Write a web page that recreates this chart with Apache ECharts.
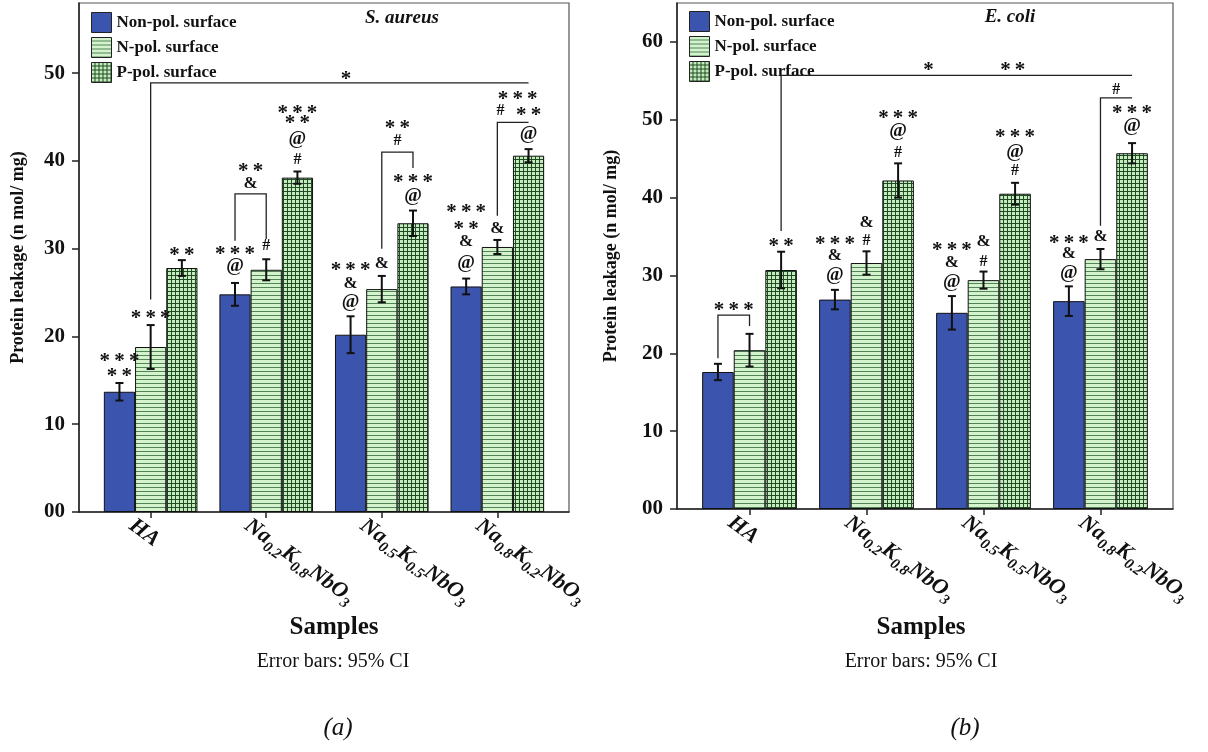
<!DOCTYPE html>
<html>
<head>
<meta charset="utf-8">
<script src="https://cdn.jsdelivr.net/npm/echarts@6/dist/echarts.min.js"></script>
<style>
  html, body { margin: 0; padding: 0; background: #fff; }
  #chart { width: 1208px; height: 752px; }
</style>
</head>
<body>
<div id="chart"></div>
<script>
// samples, series names
var samples = ['HA', 'Na0.2K0.8NbO3', 'Na0.5K0.5NbO3', 'Na0.8K0.2NbO3'];
var surfaces = ['Non-pol. surface', 'N-pol. surface', 'P-pol. surface'];
var yTicksA = [0, 10, 20, 30, 40, 50];
var yTicksB = [0, 10, 20, 30, 40, 50, 60];

// (a) S. aureus - protein leakage and 95% CI half widths
var aureusNon = [13.7, 24.8, 20.2, 25.7];
var aureusN = [18.8, 27.6, 25.4, 30.2];
var aureusP = [27.8, 38.1, 32.9, 40.6];
var aureusNonErr = [1.0, 1.3, 2.1, 0.9];
var aureusNErr = [2.5, 1.2, 1.5, 0.8];
var aureusPErr = [0.9, 0.7, 1.45, 0.75];

// (b) E. coli
var coliNon = [17.6, 26.9, 25.2, 26.7];
var coliN = [20.4, 31.6, 29.4, 32.1];
var coliP = [30.7, 42.2, 40.5, 45.7];
var coliNonErr = [1.05, 1.25, 2.15, 1.9];
var coliNErr = [2.1, 1.5, 1.1, 1.3];
var coliPErr = [2.35, 2.2, 1.4, 1.3];

// significance marks: [sample, surface (0..2, fractional = between bars), y, text]
var sigA = [
  [0, 0, 17.7, '***'], [0, 0, 16.0, '**'],
  [0, 1, 22.6, '***'],
  [0, 2, 29.8, '**'],
  [1, 0, 29.9, '***'], [1, 0, 28.0, '@'],
  [1, 1, 30.3, '#'],
  [1, 0.5, 37.4, '&'], [1, 0.5, 39.4, '**'],
  [1, 2, 40.1, '#'], [1, 2, 42.5, '@'], [1, 2, 44.8, '**'], [1, 2, 46.0, '***'],
  [2, 0, 28.1, '***'], [2, 0, 26.0, '&'], [2, 0, 23.9, '@'],
  [2, 1, 28.3, '&'],
  [2, 1.5, 42.3, '#'], [2, 1.5, 44.3, '**'],
  [2, 2, 36.0, '@'], [2, 2, 38.1, '***'],
  [3, 0, 34.7, '***'], [3, 0, 32.8, '**'], [3, 0, 30.8, '&'], [3, 0, 28.4, '@'],
  [3, 1, 32.3, '&'],
  [3, 1.1, 45.7, '#'],
  [3, 2, 43.1, '@'], [3, 2, 45.7, '**'], [3, 1.65, 47.6, '***'],
  [1.69, 1, 49.9, '*']
];
// brackets: [sample1, surface1, leg1 end, sample2, surface2, leg2 end, level]
var bracketsA = [
  [1, 0, 30.9, 1, 1, 31.1, 36.25],
  [2, 1, 30.0, 2, 2, 39.2, 41.0],
  [3, 1, 33.75, 3, 2, 44.4, 44.4],
  [0, 1, 24.2, 3, 2, 48.9, 48.9]
];

var sigB = [
  [0, 0.5, 26.1, '***'],
  [0, 2, 34.3, '**'],
  [1.53, 1, 56.9, '*'], [2.25, 1, 56.9, '**'],
  [1, 0, 34.6, '***'], [1, 0, 32.5, '&'], [1, 0, 30.1, '@'],
  [1, 1, 36.8, '&'], [1, 1, 34.5, '#'],
  [1, 2, 50.8, '***'], [1, 2, 48.5, '@'], [1, 2, 45.8, '#'],
  [2, 0, 33.8, '***'], [2, 0, 31.7, '&'], [2, 0, 29.2, '@'],
  [2, 1, 34.3, '&'], [2, 1, 31.7, '#'],
  [2, 2, 48.4, '***'], [2, 2, 45.9, '@'], [2, 2, 43.4, '#'],
  [3, 0, 34.7, '***'], [3, 0, 32.8, '&'], [3, 0, 30.3, '@'],
  [3, 1, 35.0, '&'],
  [3, 1.5, 53.9, '#'],
  [3, 2, 51.5, '***'], [3, 2, 49.2, '@']
];
var bracketsB = [
  [0, 0, 19.35, 0, 1, 23.5, 24.9],
  [0, 2, 35.7, 3, 2, 55.7, 55.7],
  [3, 1, 36.4, 3, 2, 52.8, 52.8]
];

var serif = '"Liberation Serif", "Times New Roman", serif';
var BAR = 0.27; // bar width as share of one sample step

// fill patterns
function stripes() {
  var c = document.createElement('canvas');
  c.width = 4; c.height = 4;
  var g = c.getContext('2d');
  g.fillStyle = '#d4f3cc'; g.fillRect(0, 0, 4, 4);
  g.fillStyle = '#52845a'; g.fillRect(0, 3, 4, 1);
  return { image: c, repeat: 'repeat' };
}
function checks() {
  var c = document.createElement('canvas');
  c.width = 4; c.height = 4;
  var g = c.getContext('2d');
  g.fillStyle = '#c6ecbd'; g.fillRect(0, 0, 4, 4);
  g.fillStyle = '#1f4b25'; g.fillRect(0, 3, 4, 1); g.fillRect(3, 0, 1, 4);
  return { image: c, repeat: 'repeat' };
}
var fills = ['#3b55ae', stripes(), checks()];

function sampleLabel(v) {
  var name = samples[Math.round(v)];
  var m = name.match(/^Na([\d.]+)K([\d.]+)NbO(\d)$/);
  if (!m) return '{m|' + name + '}';
  return '{m|Na}{s|' + m[1] + '}{m|K}{s|' + m[2] + '}{m|NbO}{s|' + m[3] + '}';
}

function xAxis(gi) {
  return {
    type: 'value', gridIndex: gi, min: -0.62, max: 3.62,
    axisLine: { show: true, onZero: false, lineStyle: { color: '#222', width: 1.5 } },
    axisTick: { show: true, customValues: [0, 1, 2, 3], length: 6, lineStyle: { color: '#222', width: 1.5 } },
    splitLine: { show: false },
    axisLabel: {
      customValues: [0, 1, 2, 3], rotate: -36, margin: 7,
      verticalAlign: 'top', padding: [0, 0, 0, -13],
      formatter: sampleLabel,
      rich: {
        m: { fontFamily: serif, fontWeight: 'bold', fontStyle: 'italic', fontSize: 22, color: '#111', lineHeight: 30, verticalAlign: 'middle' },
        s: { fontFamily: serif, fontWeight: 'bold', fontStyle: 'italic', fontSize: 15, color: '#111', lineHeight: 30, verticalAlign: 'bottom' }
      }
    }
  };
}
function yAxis(gi, max, ticks, gap) {
  return {
    type: 'value', gridIndex: gi, min: 0, max: max,
    name: 'Protein leakage (n mol/ mg)', nameLocation: 'middle', nameGap: gap,
    nameTextStyle: { fontFamily: serif, fontWeight: 'bold', fontSize: 18, color: '#111' },
    axisLine: { show: true, onZero: false, lineStyle: { color: '#222', width: 1.5 } },
    axisTick: { show: true, customValues: ticks, length: 7, lineStyle: { color: '#222', width: 1.5 } },
    splitLine: { show: false },
    axisLabel: {
      customValues: ticks, margin: 14,
      fontFamily: serif, fontWeight: 'bold', fontSize: 21, color: '#111',
      formatter: function (v) { return v === 0 ? '00' : String(v); }
    }
  };
}

function bars(gi, vals) {
  return vals.map(function (arr, k) {
    return {
      name: surfaces[k], type: 'bar', xAxisIndex: gi, yAxisIndex: gi,
      barWidth: (BAR * 100) + '%', barGap: '0%',
      data: arr.map(function (v, i) { return [i, v]; }),
      itemStyle: { color: fills[k], borderColor: '#111', borderWidth: 1 },
      z: 2
    };
  });
}

function xOf(api, s, k, y) {
  var p = api.coord([s, y]);
  return p[0] + (k - 1) * BAR * api.size([1, 0])[0];
}

function errBars(gi, vals, errs) {
  var rows = [];
  vals.forEach(function (arr, k) {
    arr.forEach(function (v, i) { rows.push([i, v, errs[k][i], k]); });
  });
  return {
    type: 'custom', xAxisIndex: gi, yAxisIndex: gi, z: 5, silent: true,
    data: rows.map(function (r) { return [r[0], r[1] + r[2]]; }),
    renderItem: function (params, api) {
      var r = rows[params.dataIndex];
      var x = xOf(api, r[0], r[3], r[1]);
      var yT = api.coord([r[0], r[1] + r[2]])[1];
      var yB = api.coord([r[0], r[1] - r[2]])[1];
      var st = { stroke: '#111', lineWidth: 2 };
      return { type: 'group', children: [
        { type: 'line', shape: { x1: x, y1: yT, x2: x, y2: yB }, style: st },
        { type: 'line', shape: { x1: x - 4, y1: yT, x2: x + 4, y2: yT }, style: st },
        { type: 'line', shape: { x1: x - 4, y1: yB, x2: x + 4, y2: yB }, style: st }
      ] };
    }
  };
}

function sigMarks(gi, list) {
  return {
    type: 'custom', xAxisIndex: gi, yAxisIndex: gi, z: 6, silent: true,
    data: list.map(function (a) { return [a[0], a[2]]; }),
    renderItem: function (params, api) {
      var a = list[params.dataIndex];
      var t = a[3];
      var x = xOf(api, a[0], a[1], a[2]);
      var y = api.coord([a[0], a[2]])[1];
      var size = 17, dy = 0;
      if (t.charAt(0) === '*') { size = 21; dy = 5; t = t.split('').join('\u2009'); }
      else if (t === '@') { size = 19; }
      else if (t === '#') { size = 16; }
      return {
        type: 'text',
        style: {
          x: x, y: y + dy, text: t,
          font: 'bold ' + size + 'px ' + serif, fill: '#111',
          align: 'center', verticalAlign: 'middle',
          textAlign: 'center', textVerticalAlign: 'middle'
        }
      };
    }
  };
}

function brackets(gi, list) {
  return {
    type: 'custom', xAxisIndex: gi, yAxisIndex: gi, z: 6, silent: true,
    data: list.map(function (b) { return [b[0], b[6]]; }),
    renderItem: function (params, api) {
      var b = list[params.dataIndex];
      var x1 = xOf(api, b[0], b[1], b[6]);
      var x2 = xOf(api, b[3], b[4], b[6]);
      var yl = api.coord([b[0], b[6]])[1];
      var y1 = api.coord([b[0], b[2]])[1];
      var y2 = api.coord([b[3], b[5]])[1];
      return {
        type: 'polyline',
        shape: { points: [[x1, y1], [x1, yl], [x2, yl], [x2, y2]] },
        style: { stroke: '#222', lineWidth: 1.3, fill: null }
      };
    }
  };
}

function legend(left, top) {
  return {
    data: surfaces, orient: 'vertical', left: left, top: top,
    icon: 'rect', itemWidth: 20, itemHeight: 20, itemGap: 4,
    selectedMode: false,
    itemStyle: { borderColor: '#222', borderWidth: 1 },
    textStyle: { fontFamily: serif, fontWeight: 'bold', fontSize: 17, color: '#111' }
  };
}

function label(x, y, text, font) {
  return {
    type: 'text', x: x, y: y,
    style: { text: text, font: font, fill: '#111', align: 'center', verticalAlign: 'middle', textAlign: 'center', textVerticalAlign: 'middle' }
  };
}

var chart = echarts.init(document.getElementById('chart'));
var option = {
  backgroundColor: '#fff',
  animation: false,
  grid: [
    { left: 79, top: 3, width: 490, height: 509, show: true, borderColor: '#555', borderWidth: 1.2, backgroundColor: 'transparent' },
    { left: 677, top: 3, width: 496, height: 506, show: true, borderColor: '#555', borderWidth: 1.2, backgroundColor: 'transparent' }
  ],
  xAxis: [xAxis(0), xAxis(1)],
  yAxis: [yAxis(0, 58, yTicksA, 52), yAxis(1, 65, yTicksB, 57)],
  legend: [legend(86, 7), legend(684, 6)],
  graphic: [
    label(402, 18, 'S. aureus', 'italic bold 19px ' + serif),
    label(1010, 17, 'E. coli', 'italic bold 19px ' + serif),
    label(334, 628, 'Samples', 'bold 25px ' + serif),
    label(921, 628, 'Samples', 'bold 25px ' + serif),
    label(333, 662, 'Error bars: 95% CI', '20px ' + serif),
    label(921, 662, 'Error bars: 95% CI', '20px ' + serif),
    label(338, 728, '(a)', 'italic 25px ' + serif),
    label(965, 728, '(b)', 'italic 25px ' + serif)
  ],
  series: [].concat(
    bars(0, [aureusNon, aureusN, aureusP]),
    [errBars(0, [aureusNon, aureusN, aureusP], [aureusNonErr, aureusNErr, aureusPErr]),
     sigMarks(0, sigA), brackets(0, bracketsA)],
    bars(1, [coliNon, coliN, coliP]),
    [errBars(1, [coliNon, coliN, coliP], [coliNonErr, coliNErr, coliPErr]),
     sigMarks(1, sigB), brackets(1, bracketsB)]
  )
};
chart.setOption(option);
</script>
</body>
</html>
